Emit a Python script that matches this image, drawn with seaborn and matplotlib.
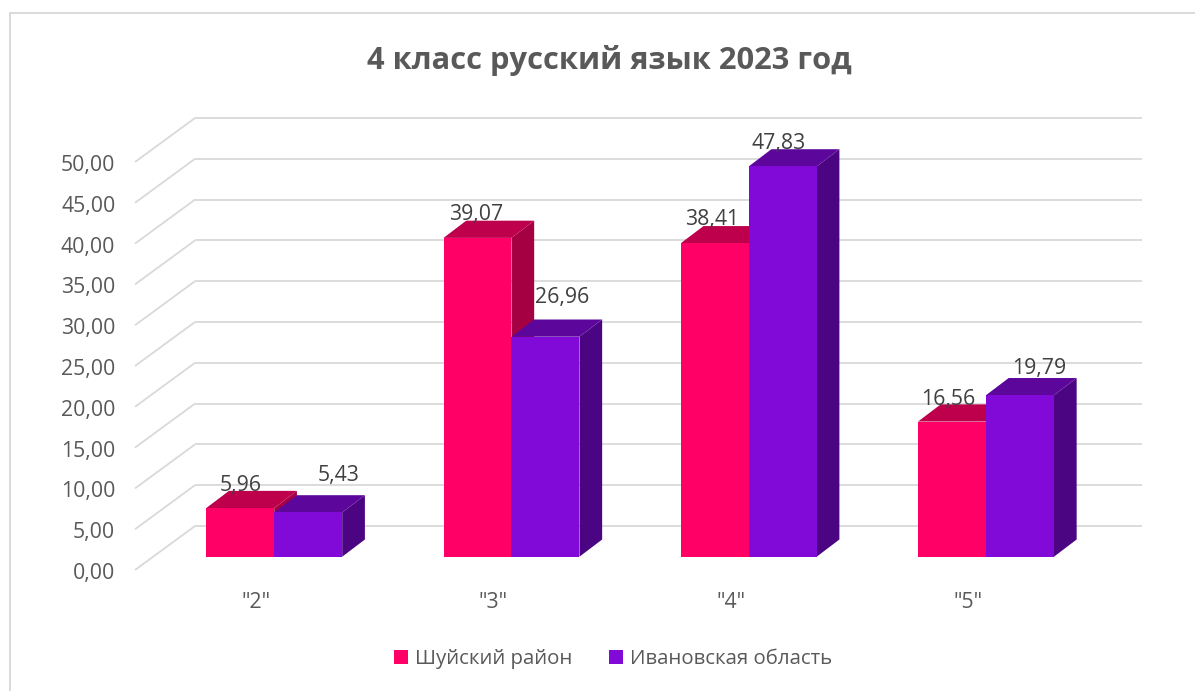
import matplotlib
matplotlib.use('Agg')
import matplotlib.pyplot as plt
from matplotlib.lines import Line2D
from matplotlib.patches import Polygon
from matplotlib.transforms import Affine2D
import pandas as pd
import seaborn as sns

#Data
grades = ['"2"', '"3"', '"4"', '"5"']
shuya = [5.96, 39.07, 38.41, 16.56]
ivanovo = [5.43, 26.96, 47.83, 19.79]
regions = ['Шуйский район', 'Ивановская область']
y_ticks = [0, 5, 10, 15, 20, 25, 30, 35, 40, 45, 50]

#Colours
front_colors = ['#FF0066', '#820AD9']
top_colors = ['#BE004C', '#5D069C']
side_colors = ['#A50042', '#4B0482']
grid_color = '#D9D9D9'

#Hand placed label shifts in pixels, one per bar (Excel moved them around)
label_dx = [[0, -1, -3, -4], [30, 17, -4, 19]]
label_dy = [[23, 23, 24, 22], [37, 39, 23, 27]]

W, H = 1195, 691
sns.set_theme(style='white')
plt.rcParams['font.family'] = ['Open Sans', 'DejaVu Sans']

fig = plt.figure(figsize=(W / 100, H / 100), dpi=100)
ax = fig.add_axes([155.6 / W, 1 - 556.7 / H, 949 / W, 408 / H])

df = pd.DataFrame({
    'grade': grades * 2,
    'value': shuya + ivanovo,
    'region': [regions[0]] * 4 + [regions[1]] * 4,
})
sns.barplot(data=df, x='grade', y='value', hue='region', palette=front_colors,
            width=0.573, saturation=1, gap=0, ax=ax, zorder=4, errorbar=None, linewidth=0)
ax.set_xlim(-0.5, 3.5)
ax.set_ylim(0, 50)
ax.set_xlabel('')
ax.set_ylabel('')
sns.despine(ax=ax, left=True, bottom=True)

#Pixel to data units
px_x = 4 / 949
px_y = 50 / 408

#Back wall and side wall lines
front_x, front_y = -20.6 * px_x, -13.3 * px_y
back_x, back_y = 39.4 * px_x, 30.7 * px_y
for t in y_ticks:
    ax.plot([-0.5 + front_x, -0.5 + back_x], [t + front_y, t + back_y], color=grid_color,
            lw=1.3, clip_on=False, zorder=1, solid_capstyle='butt')
    ax.plot([-0.5 + back_x, 3.5 + back_x - 2 * px_x], [t + back_y, t + back_y], color=grid_color,
            lw=1.3, clip_on=False, zorder=1, solid_capstyle='butt')

#Fake 3D: top and side of each bar
depth_x, depth_y = 22.7 * px_x, 17.2 * px_y
for i, container in enumerate(ax.containers):
    for j, bar in enumerate(container):
        x0, x1 = bar.get_x(), bar.get_x() + bar.get_width()
        h = bar.get_height()
        top = [(x0, h), (x1, h), (x1 + depth_x, h + depth_y), (x0 + depth_x, h + depth_y)]
        side = [(x1, 0), (x1 + depth_x, depth_y), (x1 + depth_x, h + depth_y), (x1, h)]
        ax.add_patch(Polygon(side, closed=True, fc=side_colors[i], ec='none', zorder=2 + i, clip_on=False))
        ax.add_patch(Polygon(top, closed=True, fc=top_colors[i], ec='none', zorder=2 + i, clip_on=False))
        ax.text(bar.get_x() + bar.get_width() / 2 + label_dx[i][j] * px_x,
                h + label_dy[i][j] * px_y, ('%.2f' % h).replace('.', ','),
                ha='center', va='center', fontsize=15.3, color='#404040', zorder=5)

#Tick labels sit on the front plane
ax.set_yticks(y_ticks)
ax.set_yticklabels([('%.2f' % t).replace('.', ',') for t in y_ticks])
ax.set_xticks(range(len(grades)))
ax.set_xticklabels(grades)
ax.tick_params(axis='both', length=0, labelsize=15.3, labelcolor='#595959')
ax.tick_params(axis='y', pad=0)
ax.tick_params(axis='x', pad=0)
for label in ax.get_yticklabels():
    label.set_transform(label.get_transform() + Affine2D().translate(-40.3, -14.3))
for label in ax.get_xticklabels():
    label.set_transform(label.get_transform() + Affine2D().translate(-18, -35))

fig.text(609 / W, 1 - 60 / H, '4 класс русский язык 2023 год', ha='center', va='center',
         fontsize=22.2, fontweight='bold', color='#595959')

ax.legend(loc='center', bbox_to_anchor=(613 / W, 1 - 659 / H), bbox_transform=fig.transFigure,
          ncol=2, frameon=False, fontsize=14.7, labelcolor='#595959', handlelength=0.69,
          handleheight=0.69, handletextpad=0.34, columnspacing=1.76, title=None)

#Chart border
fig.add_artist(Line2D([9.5 / W, 9.5 / W, 1], [0, 1 - 13 / H, 1 - 13 / H], color=grid_color, lw=1.4))

fig.savefig('out.png', dpi=100)
